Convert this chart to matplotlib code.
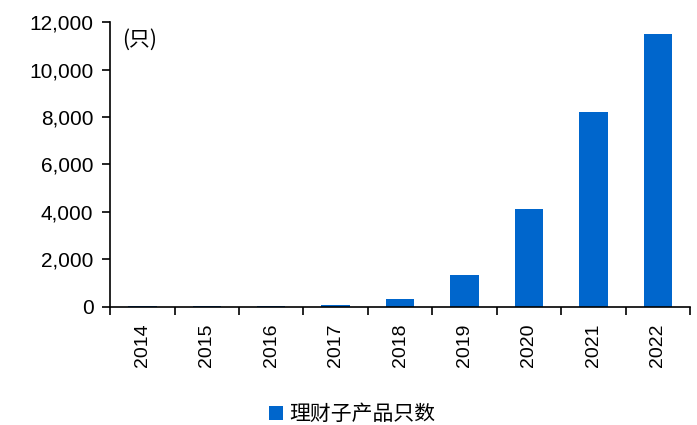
import numpy as np
import matplotlib
matplotlib.use("Agg")
from matplotlib import pyplot as plt
from matplotlib.ticker import FuncFormatter, FixedLocator

plt.rcParams['font.family'] = ['Liberation Sans', 'Noto Sans CJK SC', 'DejaVu Sans']

years = ["2014", "2015", "2016", "2017", "2018", "2019", "2020", "2021", "2022"]
counts = [20, 20, 25, 60, 320, 1340, 4130, 8200, 11480]

fig = plt.figure(figsize=(6.97, 4.25), dpi=100)
ax = fig.add_axes([0.158, 0.278, 0.832, 0.67])

x = np.arange(len(years))
ax.bar(x, counts, width=0.44, color="#0066CC", label="理财子产品只数")

ax.set_xlim(-0.5, len(years) - 0.5)
ax.set_ylim(0, 12000)
ax.set_yticks(range(0, 12001, 2000))
ax.yaxis.set_major_formatter(FuncFormatter(lambda v, p: f"{int(v):,}"))
ax.set_xticks(x)
ax.set_xticklabels(years, rotation=90, fontsize=14)
ax.tick_params(axis='x', which='major', length=0, pad=12)
ax.xaxis.set_minor_locator(FixedLocator(np.arange(-0.5, len(years), 1)))
ax.tick_params(axis='x', which='minor', length=6, width=1.2, direction='out')
ax.tick_params(axis='y', labelsize=15, length=6, width=1.2, direction='out', pad=6)

for s in ["top", "right"]:
    ax.spines[s].set_visible(False)
ax.spines["left"].set_linewidth(1.2)
ax.spines["bottom"].set_linewidth(1.2)

ax.text(0.02, 0.975, "(只)", transform=ax.transAxes, fontsize=15,
        va="top", ha="left", family=['Noto Sans CJK SC', 'DejaVu Sans'])

leg = fig.legend(loc="lower center", bbox_to_anchor=(0.505, -0.045), frameon=False,
                 prop={'family': ['Noto Sans CJK SC', 'DejaVu Sans'], 'size': 15},
                 handlelength=0.7, handleheight=0.7, handletextpad=0.3)

fig.savefig("out.png", dpi=100)
